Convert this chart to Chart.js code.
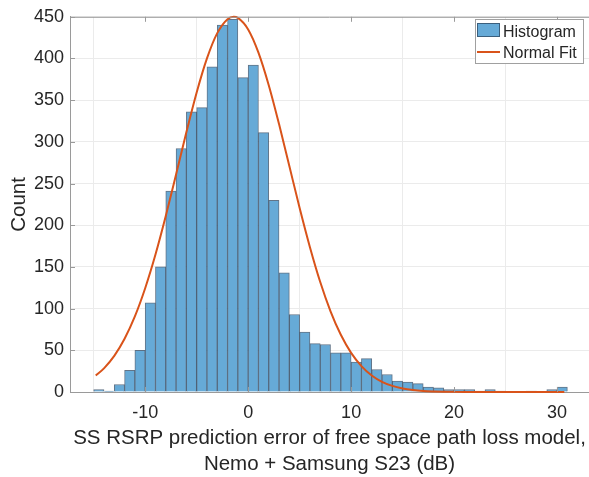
<!DOCTYPE html>
<html>
<head>
<meta charset="utf-8">
<script src="https://cdn.jsdelivr.net/npm/chart.js@4.4.1/dist/chart.umd.min.js"></script>
<style>
  html, body { margin: 0; padding: 0; background: #fff; }
  #wrap { width: 589px; height: 477px; }
</style>
</head>
<body>
<div id="wrap"><canvas id="histChart" width="589" height="477"></canvas></div>
<script>
// bin left edges (bin width 1 dB) and counts
const binLeft = [-15, -14, -13, -12, -11, -10, -9, -8, -7, -6, -5, -4, -3, -2, -1, 0, 1, 2, 3, 4, 5, 6, 7, 8, 9,
  10, 11, 12, 13, 14, 15, 16, 17, 18, 19, 20, 21, 22, 23, 24, 25, 26, 27, 28, 29, 30];
const binWidth = 1;
const counts = [3, 1, 9, 26, 50, 107, 150, 241, 292, 336, 341, 390, 440, 447, 377, 392, 311, 230, 143, 93, 72, 58, 57, 47, 47,
  36, 40, 27, 21, 13, 12, 10, 6, 5, 3, 3, 3, 1, 3, 1, 0, 0, 1, 0, 3, 6];

// normal fit curve
const fitX = [-14.8, -14, -13, -12, -11, -10, -9, -8, -7, -6, -5, -4, -3, -2, -1.4, -1, 0, 1, 2, 3, 4, 5, 6, 7, 8, 9,
  10, 11, 12, 13, 14, 15, 16, 17, 18, 19, 20, 21, 22, 24, 26, 28, 30, 30.7];
const fitY = [19.8, 28.4, 43.3, 63.8, 90.6, 124.4, 164.8, 211, 260.8, 311.4, 359.2, 400.1, 430.4, 447.2, 450, 448.7, 434.9,
  407.1, 368, 321.3, 271, 220.7, 173.7, 131.9, 96.8, 68.6, 46.9, 31, 19.8, 12.2, 7.3, 4.2, 2.3, 1.2, 0.65, 0.32, 0.15,
  0.07, 0.03, 0.01, 0, 0, 0, 0];

const xTicks = [-10, 0, 10, 20, 30];
const yTicks = [0, 50, 100, 150, 200, 250, 300, 350, 400, 450];

const xTitle = ['SS RSRP prediction error of free space path loss model,', 'Nemo + Samsung S23 (dB)'];
const yTitle = 'Count';
const legendLabels = ['Histogram', 'Normal Fit'];

const barFill = '#66aad7';
const barEdge = 'rgba(45,70,95,0.75)';
const fitColor = '#d9531a';
const axisColor = '#9a9a9a';
const gridColor = '#ebebeb';
const textColor = '#262626';
const FONT = '"Liberation Sans", Arial, Helvetica, sans-serif';

// extras MATLAB draws: top border, inner ticks, axis titles, legend
const decorations = {
  id: 'decorations',
  afterDraw(chart) {
    const ctx = chart.ctx;
    const a = chart.chartArea;
    const xs = chart.scales.x, ys = chart.scales.y;
    ctx.save();
    ctx.strokeStyle = axisColor;
    ctx.lineWidth = 1;
    ctx.beginPath();
    ctx.moveTo(a.left, a.top + 0.5);
    ctx.lineTo(a.right, a.top + 0.5);
    xTicks.forEach(v => {
      const px = Math.round(xs.getPixelForValue(v)) + 0.5;
      ctx.moveTo(px, a.bottom); ctx.lineTo(px, a.bottom - 5);
      ctx.moveTo(px, a.top); ctx.lineTo(px, a.top + 5);
    });
    yTicks.forEach(v => {
      const py = Math.round(ys.getPixelForValue(v)) + 0.5;
      ctx.moveTo(a.left, py); ctx.lineTo(a.left + 5, py);
    });
    ctx.stroke();

    // axis titles
    ctx.fillStyle = textColor;
    ctx.font = '20.5px ' + FONT;
    ctx.textAlign = 'center';
    ctx.textBaseline = 'alphabetic';
    const cx = (a.left + a.right) / 2;
    ctx.fillText(xTitle[0], cx, 443.5);
    ctx.fillText(xTitle[1], cx, 470);
    ctx.save();
    ctx.translate(25, (a.top + a.bottom) / 2);
    ctx.rotate(-Math.PI / 2);
    ctx.fillText(yTitle, 0, 0);
    ctx.restore();

    // legend
    ctx.fillStyle = '#fff';
    ctx.fillRect(475.5, 19.5, 108, 44);
    ctx.strokeStyle = '#a0a0a0';
    ctx.strokeRect(475.5, 19.5, 108, 44);
    ctx.fillStyle = barFill;
    ctx.fillRect(477, 23, 23, 14);
    ctx.strokeStyle = barEdge;
    ctx.strokeRect(477.5, 23.5, 22, 13);
    ctx.strokeStyle = fitColor;
    ctx.lineWidth = 2;
    ctx.beginPath();
    ctx.moveTo(477, 52); ctx.lineTo(500, 52);
    ctx.stroke();
    ctx.fillStyle = textColor;
    ctx.font = '16px ' + FONT;
    ctx.textAlign = 'left';
    ctx.textBaseline = 'alphabetic';
    ctx.fillText(legendLabels[0], 503, 36.5);
    ctx.fillText(legendLabels[1], 503, 58);
    ctx.restore();
  }
};

new Chart(document.getElementById('histChart'), {
  data: {
    datasets: [
      {
        type: 'line',
        label: legendLabels[1],
        data: fitX.map((x, i) => ({ x: x, y: fitY[i] })),
        borderColor: fitColor,
        borderWidth: 2,
        pointRadius: 0,
        cubicInterpolationMode: 'monotone',
        fill: false,
        clip: 4,
        order: 0
      },
      {
        type: 'bar',
        label: legendLabels[0],
        data: binLeft.map((x, i) => ({ x: x + binWidth / 2, y: counts[i] })),
        backgroundColor: barFill,
        borderColor: barEdge,
        borderWidth: 1,
        borderSkipped: 'bottom',
        barPercentage: 1,
        categoryPercentage: 1,
        grouped: false,
        order: 1
      }
    ]
  },
  options: {
    responsive: false,
    animation: false,
    devicePixelRatio: 1,
    layout: { padding: { top: 12, right: 0, left: 0, bottom: 0 } },
    plugins: { legend: { display: false }, tooltip: { enabled: false } },
    scales: {
      x: {
        type: 'linear',
        min: -17.3,
        max: 33.1,
        offset: false,
        afterBuildTicks: s => { s.ticks = xTicks.map(v => ({ value: v })); },
        afterFit: s => { s.height = 85; },
        ticks: { font: { family: FONT, size: 18 }, color: textColor, padding: 10, maxRotation: 0 },
        grid: { color: gridColor, drawTicks: false },
        border: { color: axisColor }
      },
      y: {
        min: 0,
        max: 450,
        afterBuildTicks: s => { s.ticks = yTicks.map(v => ({ value: v })); },
        afterFit: s => { s.width = 70; },
        ticks: { font: { family: FONT, size: 18 }, color: textColor, padding: 6 },
        grid: { color: gridColor, drawTicks: false },
        border: { color: axisColor }
      }
    }
  },
  plugins: [decorations]
});
</script>
</body>
</html>
